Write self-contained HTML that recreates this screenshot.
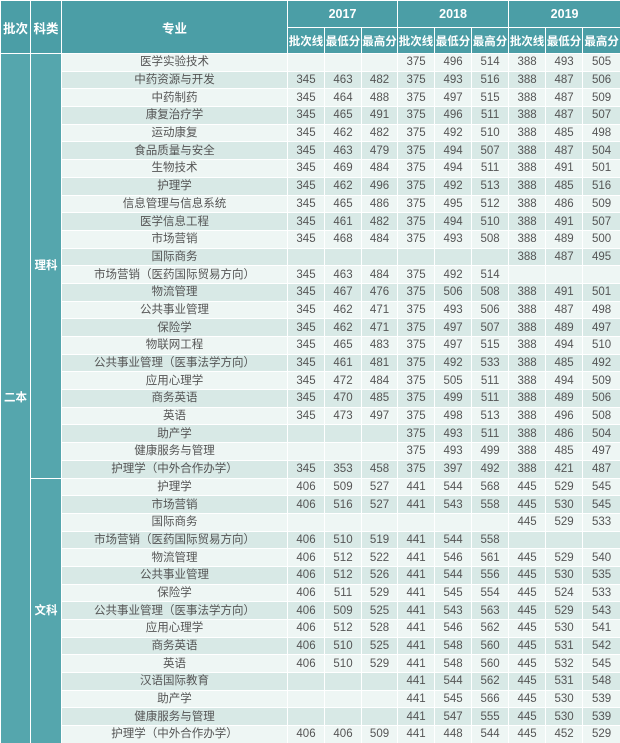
<!DOCTYPE html>
<html><head><meta charset="utf-8"><style>
html,body{margin:0;padding:0;width:620px;height:743px;overflow:hidden;background:#fff}
table{border-collapse:collapse;table-layout:fixed;width:620px;font-family:"Liberation Sans","Noto Sans CJK SC",sans-serif}
td,th{border:1px solid #fff;padding:0;text-align:center;overflow:hidden;white-space:nowrap}
th{background:#4b9ea6;color:#fff;font-size:12.5px;font-weight:bold}
thead tr.r1 th{height:26px}
thead tr.r2 th{height:25px;font-size:11.5px}
td.l{background:#55a6ad;color:#fff;font-size:11.5px;font-weight:bold}
tbody td{height:16.7px;font-size:11.5px;color:#555;line-height:16px}
tbody tr:nth-child(odd) td:not(.l){background:#eef6f4}
tbody tr:nth-child(even) td:not(.l){background:#d8e9e6}
</style></head><body>
<table>
<colgroup><col style="width:30px"><col style="width:31px"><col style="width:226px">
<col style="width:37px"><col style="width:37px"><col style="width:36px">
<col style="width:37px"><col style="width:37px"><col style="width:37px">
<col style="width:37px"><col style="width:37px"><col style="width:38px"></colgroup>
<thead>
<tr class="r1"><th rowspan="2">批次</th><th rowspan="2">科类</th><th rowspan="2">专业</th><th colspan="3">2017</th><th colspan="3">2018</th><th colspan="3">2019</th></tr>
<tr class="r2"><th>批次线</th><th>最低分</th><th>最高分</th><th>批次线</th><th>最低分</th><th>最高分</th><th>批次线</th><th>最低分</th><th>最高分</th></tr>
</thead>
<tbody>
<tr><td class="l" rowspan="39">二本</td><td class="l" rowspan="24">理科</td><td>医学实验技术</td><td></td><td></td><td></td><td>375</td><td>496</td><td>514</td><td>388</td><td>493</td><td>505</td></tr>
<tr><td>中药资源与开发</td><td>345</td><td>463</td><td>482</td><td>375</td><td>493</td><td>516</td><td>388</td><td>487</td><td>506</td></tr>
<tr><td>中药制药</td><td>345</td><td>464</td><td>488</td><td>375</td><td>497</td><td>515</td><td>388</td><td>487</td><td>509</td></tr>
<tr><td>康复治疗学</td><td>345</td><td>465</td><td>491</td><td>375</td><td>496</td><td>511</td><td>388</td><td>487</td><td>507</td></tr>
<tr><td>运动康复</td><td>345</td><td>462</td><td>482</td><td>375</td><td>492</td><td>510</td><td>388</td><td>485</td><td>498</td></tr>
<tr><td>食品质量与安全</td><td>345</td><td>463</td><td>479</td><td>375</td><td>494</td><td>507</td><td>388</td><td>487</td><td>504</td></tr>
<tr><td>生物技术</td><td>345</td><td>469</td><td>484</td><td>375</td><td>494</td><td>511</td><td>388</td><td>491</td><td>501</td></tr>
<tr><td>护理学</td><td>345</td><td>462</td><td>496</td><td>375</td><td>492</td><td>513</td><td>388</td><td>485</td><td>516</td></tr>
<tr><td>信息管理与信息系统</td><td>345</td><td>465</td><td>486</td><td>375</td><td>495</td><td>512</td><td>388</td><td>486</td><td>509</td></tr>
<tr><td>医学信息工程</td><td>345</td><td>461</td><td>482</td><td>375</td><td>494</td><td>510</td><td>388</td><td>491</td><td>507</td></tr>
<tr><td>市场营销</td><td>345</td><td>468</td><td>484</td><td>375</td><td>493</td><td>508</td><td>388</td><td>489</td><td>500</td></tr>
<tr><td>国际商务</td><td></td><td></td><td></td><td></td><td></td><td></td><td>388</td><td>487</td><td>495</td></tr>
<tr><td>市场营销（医药国际贸易方向）</td><td>345</td><td>463</td><td>484</td><td>375</td><td>492</td><td>514</td><td></td><td></td><td></td></tr>
<tr><td>物流管理</td><td>345</td><td>467</td><td>476</td><td>375</td><td>506</td><td>508</td><td>388</td><td>491</td><td>501</td></tr>
<tr><td>公共事业管理</td><td>345</td><td>462</td><td>471</td><td>375</td><td>493</td><td>506</td><td>388</td><td>487</td><td>498</td></tr>
<tr><td>保险学</td><td>345</td><td>462</td><td>471</td><td>375</td><td>497</td><td>507</td><td>388</td><td>489</td><td>497</td></tr>
<tr><td>物联网工程</td><td>345</td><td>465</td><td>483</td><td>375</td><td>497</td><td>515</td><td>388</td><td>494</td><td>510</td></tr>
<tr><td>公共事业管理（医事法学方向）</td><td>345</td><td>461</td><td>481</td><td>375</td><td>492</td><td>533</td><td>388</td><td>485</td><td>492</td></tr>
<tr><td>应用心理学</td><td>345</td><td>472</td><td>484</td><td>375</td><td>505</td><td>511</td><td>388</td><td>494</td><td>509</td></tr>
<tr><td>商务英语</td><td>345</td><td>470</td><td>485</td><td>375</td><td>499</td><td>511</td><td>388</td><td>489</td><td>506</td></tr>
<tr><td>英语</td><td>345</td><td>473</td><td>497</td><td>375</td><td>498</td><td>513</td><td>388</td><td>496</td><td>508</td></tr>
<tr><td>助产学</td><td></td><td></td><td></td><td>375</td><td>493</td><td>511</td><td>388</td><td>486</td><td>504</td></tr>
<tr><td>健康服务与管理</td><td></td><td></td><td></td><td>375</td><td>493</td><td>499</td><td>388</td><td>485</td><td>497</td></tr>
<tr><td>护理学（中外合作办学）</td><td>345</td><td>353</td><td>458</td><td>375</td><td>397</td><td>492</td><td>388</td><td>421</td><td>487</td></tr>
<tr><td class="l" rowspan="15">文科</td><td>护理学</td><td>406</td><td>509</td><td>527</td><td>441</td><td>544</td><td>568</td><td>445</td><td>529</td><td>545</td></tr>
<tr><td>市场营销</td><td>406</td><td>516</td><td>527</td><td>441</td><td>543</td><td>558</td><td>445</td><td>530</td><td>545</td></tr>
<tr><td>国际商务</td><td></td><td></td><td></td><td></td><td></td><td></td><td>445</td><td>529</td><td>533</td></tr>
<tr><td>市场营销（医药国际贸易方向）</td><td>406</td><td>510</td><td>519</td><td>441</td><td>544</td><td>558</td><td></td><td></td><td></td></tr>
<tr><td>物流管理</td><td>406</td><td>512</td><td>522</td><td>441</td><td>546</td><td>561</td><td>445</td><td>529</td><td>540</td></tr>
<tr><td>公共事业管理</td><td>406</td><td>512</td><td>526</td><td>441</td><td>544</td><td>556</td><td>445</td><td>530</td><td>535</td></tr>
<tr><td>保险学</td><td>406</td><td>511</td><td>529</td><td>441</td><td>545</td><td>554</td><td>445</td><td>524</td><td>533</td></tr>
<tr><td>公共事业管理（医事法学方向）</td><td>406</td><td>509</td><td>525</td><td>441</td><td>543</td><td>563</td><td>445</td><td>529</td><td>543</td></tr>
<tr><td>应用心理学</td><td>406</td><td>512</td><td>528</td><td>441</td><td>546</td><td>562</td><td>445</td><td>530</td><td>541</td></tr>
<tr><td>商务英语</td><td>406</td><td>510</td><td>525</td><td>441</td><td>548</td><td>560</td><td>445</td><td>531</td><td>542</td></tr>
<tr><td>英语</td><td>406</td><td>510</td><td>529</td><td>441</td><td>548</td><td>560</td><td>445</td><td>532</td><td>545</td></tr>
<tr><td>汉语国际教育</td><td></td><td></td><td></td><td>441</td><td>544</td><td>562</td><td>445</td><td>531</td><td>548</td></tr>
<tr><td>助产学</td><td></td><td></td><td></td><td>441</td><td>545</td><td>566</td><td>445</td><td>530</td><td>539</td></tr>
<tr><td>健康服务与管理</td><td></td><td></td><td></td><td>441</td><td>547</td><td>555</td><td>445</td><td>530</td><td>539</td></tr>
<tr><td>护理学（中外合作办学）</td><td>406</td><td>406</td><td>509</td><td>441</td><td>448</td><td>544</td><td>445</td><td>452</td><td>529</td></tr>
</tbody></table>
</body></html>
